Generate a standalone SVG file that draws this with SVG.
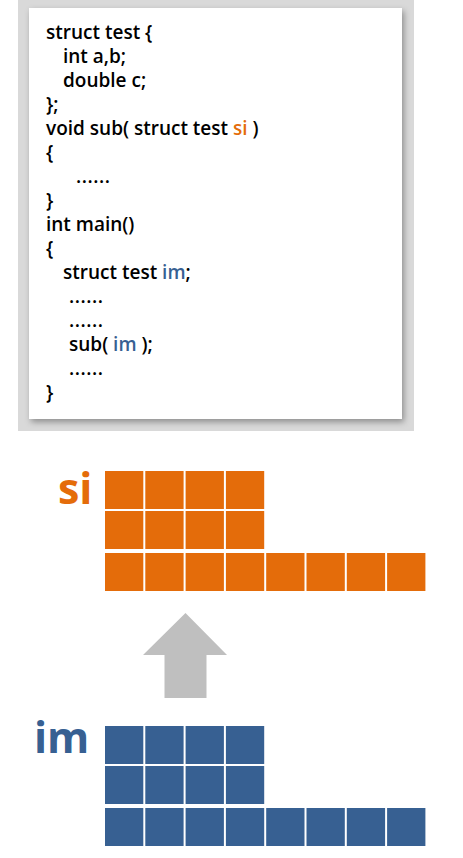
<svg xmlns="http://www.w3.org/2000/svg" width="463" height="858" viewBox="0 0 463 858">
<style>
.code{font-family:"Open Sans","Noto Sans",sans-serif;font-size:19px;font-weight:600;fill:#000}
.si{fill:#E46C0A}
.imc{fill:#376092}
.o{fill:#E46C0A}
.b{fill:#376092}
.lbl{font-family:"Open Sans","Noto Sans",sans-serif;font-size:43px;font-weight:bold}
</style>
<defs>
<filter id="sh" x="-10%" y="-10%" width="120%" height="120%">
<feDropShadow dx="2" dy="3" stdDeviation="3" flood-color="#000" flood-opacity="0.35"/>
</filter>
<g id="cells">
<rect x="0" y="0" width="38.3" height="38"/>
<rect x="40.3" y="0" width="38.3" height="38"/>
<rect x="80.6" y="0" width="38.3" height="38"/>
<rect x="120.9" y="0" width="38.3" height="38"/>
<rect x="0" y="40" width="38.3" height="38"/>
<rect x="40.3" y="40" width="38.3" height="38"/>
<rect x="80.6" y="40" width="38.3" height="38"/>
<rect x="120.9" y="40" width="38.3" height="38"/>
<rect x="0" y="82" width="38.3" height="38"/>
<rect x="40.3" y="82" width="38.3" height="38"/>
<rect x="80.6" y="82" width="38.3" height="38"/>
<rect x="120.9" y="82" width="38.3" height="38"/>
<rect x="161.2" y="82" width="38.3" height="38"/>
<rect x="201.5" y="82" width="38.3" height="38"/>
<rect x="241.8" y="82" width="38.3" height="38"/>
<rect x="282.1" y="82" width="38.3" height="38"/>
</g>
</defs>
<rect width="463" height="858" fill="#fff"/>
<g id="codepanel">
<rect x="18" y="0" width="396" height="431" fill="#D9D9D9"/>
<rect x="29" y="8" width="373" height="411" fill="#fff" filter="url(#sh)"/>
<text class="code" x="46" y="39">struct test {</text>
<text class="code" x="63" y="63">int a,b;</text>
<text class="code" x="63" y="87">double c;</text>
<text class="code" x="46" y="111">};</text>
<text class="code" x="46" y="135">void sub( struct test <tspan class="si">si</tspan> )</text>
<text class="code" x="46" y="159">{</text>
<text class="code" x="76" y="183" textLength="34" lengthAdjust="spacing">......</text>
<text class="code" x="46" y="207">}</text>
<text class="code" x="46" y="231">int main()</text>
<text class="code" x="46" y="255">{</text>
<text class="code" x="63" y="279">struct test <tspan class="imc">im</tspan>;</text>
<text class="code" x="69" y="303" textLength="34" lengthAdjust="spacing">......</text>
<text class="code" x="69" y="327" textLength="34" lengthAdjust="spacing">......</text>
<text class="code" x="69" y="351">sub( <tspan class="imc">im</tspan> );</text>
<text class="code" x="69" y="375" textLength="34" lengthAdjust="spacing">......</text>
<text class="code" x="46" y="399">}</text>
</g>
<g id="si">
<text class="lbl o" x="58" y="504">si</text>
<use href="#cells" x="105" y="471" class="o"/>
</g>
<g id="connectors">
<polygon points="185.5,613 227,655 206.5,655 206.5,698 164.5,698 164.5,655 143,655" fill="#BFBFBF"/>
</g>
<g id="im">
<text class="lbl b" x="34" y="753">im</text>
<use href="#cells" x="105" y="726" class="b"/>
</g>
</svg>
